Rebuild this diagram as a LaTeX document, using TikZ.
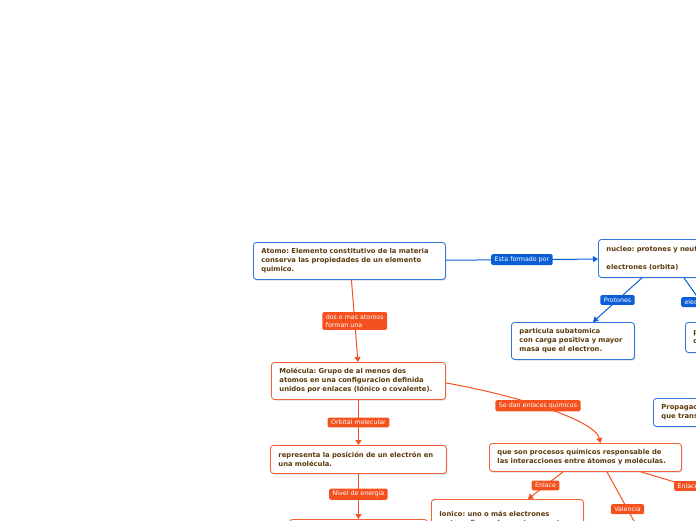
\documentclass[tikz,border=0pt]{standalone}
\usepackage{fontspec}
\setmainfont{DejaVu Sans}
\usetikzlibrary{arrows.meta,shadows}
\frenchspacing

\definecolor{azul}{HTML}{0B5FD6}
\definecolor{naranja}{HTML}{F4511E}
\definecolor{cafe}{HTML}{5C3A0C}

\tikzset{
	caja/.style={draw, fill=white, rounded corners=3pt, line width=0.9pt, anchor=north west, align=left, text=cafe,
		font=\bfseries\fontsize{6.8}{9}\selectfont, inner xsep=8pt, inner ysep=5pt,
		drop shadow={shadow xshift=1pt, shadow yshift=-1.2pt, opacity=0.3}},
	cajaazul/.style={caja, draw=azul!85!white},
	cajanar/.style={caja, draw=naranja!90!white},
	etiqueta/.style={text=white, rounded corners=1.5pt, font=\fontsize{6.3}{8}\selectfont, inner xsep=3.5pt, inner ysep=2.5pt, align=left},
	etazul/.style={etiqueta, fill=azul},
	etnar/.style={etiqueta, fill=naranja},
	flechaazul/.style={draw=azul, line width=1pt, -{Triangle[width=6pt,length=5pt]}},
	flechanar/.style={draw=naranja, line width=1pt, -{Triangle[width=6pt,length=5pt]}},
}

\begin{document}
\frenchspacing
\begin{tikzpicture}[x=1pt, y=-1pt]
		\useasboundingbox (0,0) rectangle (696,520);
		\clip (0,0) rectangle (696,520);
		% cajas azules
		\node[cajaazul, text width=176pt, minimum height=37pt] (atomo) at (253,242) {Atomo: Elemento constitutivo de la materia\\conserva las propiedades de un elemento\\quimico.};
		\node[cajaazul, text width=154pt, minimum height=38pt] (nucleo) at (598,239) {nucleo: protones y neutrones\\[9pt]electrones (orbita)};
		\node[cajaazul, text width=107pt, minimum height=37pt] (protones) at (511,322) {particula subatomica\\con carga positiva y mayor\\masa que el electron.};
		\node[cajaazul, text width=104pt, minimum height=30pt] (electrones) at (685,322) {particula subatomica\\con carga negativa.};
		\node[cajaazul, text width=120pt, minimum height=28pt] (propaga) at (653,398) {Propagacion\\que transmite};
		% cajas naranjas
		\node[cajanar, text width=158pt, minimum height=37pt] (molecula) at (271,362) {Molécula: Grupo de al menos dos\\atomos en una configuracion definida\\unidos por enlaces (Iónico o covalente).};
		\node[cajanar, text width=160pt, minimum height=28pt] (posicion) at (270,445) {representa la posición de un electrón en\\una molécula.};
		\node[cajanar, text width=176pt, minimum height=28pt] (procesos) at (489,443) {que son procesos químicos responsable de\\las interacciones entre átomos y moléculas.};
		\node[cajanar, text width=136pt, minimum height=37pt] (ionico) at (431,499) {Ionico: uno o más electrones\\se transfieren de un atomo a otro.};
		\node[cajanar, text width=122pt, minimum height=30pt] (energia) at (289,519) {};
		\coordinate (valencia) at (640,532);
		\coordinate (covalente) at (735,500);

		\path[every edge/.style={flechaazul}]
			(atomo) edge node[etazul]{Esta formado por} (nucleo)
			([xshift=44pt]nucleo.south west) edge node[etazul]{Protones} ([xshift=82pt]protones.north west)
			([xshift=86pt]nucleo.south west) edge node[etazul, pos=0.55]{electrones} ([xshift=30pt]electrones.north west)
			;
		\path[every edge/.style={flechanar}]
			([xshift=2pt]atomo.south) edge node[etnar]{dos o mas atomos\\forman una} ([xshift=-0.5pt]molecula.north)
			(molecula) edge node[etnar]{Orbital molecular} (posicion)
			(posicion) edge node[etnar, pos=0.45]{Nivel de energia} (energia)
			([xshift=74pt]procesos.south west) edge node[etnar]{Enlace} ([xshift=97pt]ionico.north west)
			([xshift=118pt]procesos.south west) edge node[etnar, pos=0.62]{Valencia} (valencia)
			([xshift=152pt]procesos.south west) edge node[etnar]{Enlace} (covalente)
			;
		\draw[flechanar] ([yshift=-2pt]molecula.east) .. controls (515,395) and (595,420) .. ([xshift=15pt]procesos.north)
			node[etnar, pos=0.45]{Se dan enlaces quimicos};
\end{tikzpicture}
\end{document}
